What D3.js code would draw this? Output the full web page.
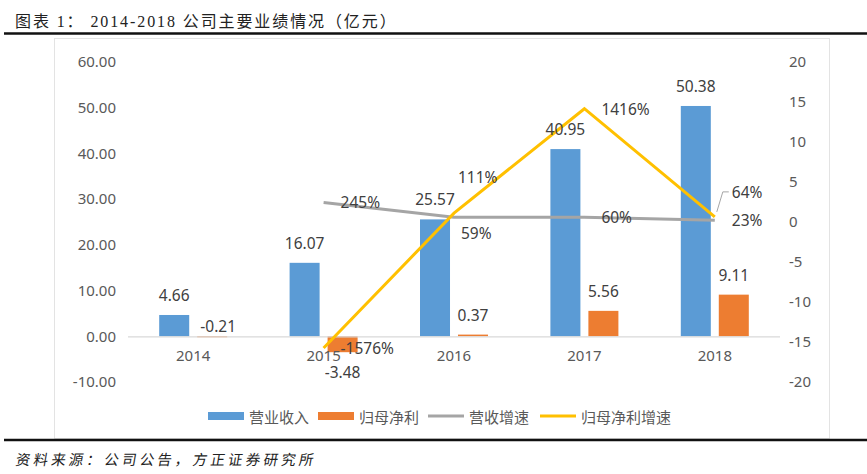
<!DOCTYPE html>
<html><head><meta charset="utf-8">
<script src="https://cdn.jsdelivr.net/npm/d3@7"></script>
<style>
html,body{margin:0;padding:0;background:#fff;}
svg{display:block;}
</style></head>
<body>
<svg id="chart" width="867" height="474"></svg>
<script>
// ---- data ----
const years = ["2014", "2015", "2016", "2017", "2018"];
const revenue = [4.66, 16.07, 25.57, 40.95, 50.38];          // 营业收入 (亿元)
const netProfit = [-0.21, -3.48, 0.37, 5.56, 9.11];          // 归母净利 (亿元)
const revenueGrowth = [null, 2.45, 0.59, 0.60, 0.23];        // 营收增速 (倍)
const profitGrowth = [null, -15.76, 1.11, 14.16, 0.64];      // 归母净利增速 (倍)
const leftTicks = [-10, 0, 10, 20, 30, 40, 50, 60];
const rightTicks = [-20, -15, -10, -5, 0, 5, 10, 15, 20];
const seriesNames = ["营业收入", "归母净利", "营收增速", "归母净利增速"];
const titleText = "图表 1：  2014-2018 公司主要业绩情况（亿元）";
const sourceText = "资料来源：公司公告，方正证券研究所";

// label placement for line-series labels
const revGrowthLabelPos = [null, "right", "below", "right", "right"];
const profitGrowthLabelPos = [null, "right", "above", "right", "leader"];

// ---- styles ----
const C = {blue: "#5B9BD5", orange: "#ED7D31", gray: "#A5A5A5", yellow: "#FFC000",
  tick: "#595959", label: "#404040", axis: "#D9D9D9"};
const FONT = "'Noto Sans', 'Noto Sans CJK SC', sans-serif";

const svg = d3.select("#chart");
svg.append("rect").attr("width", 867).attr("height", 474).attr("fill", "#fff");

// title & rules
svg.append("text").attr("x", 15).attr("y", 27)
  .attr("font-family", "'Liberation Serif', 'Noto Sans CJK SC', serif")
  .attr("font-size", 16).attr("letter-spacing", 1.9).attr("fill", "#222").text(titleText);
svg.append("line").attr("x1", 4).attr("x2", 867).attr("y1", 33.5).attr("y2", 33.5)
  .attr("stroke", "#111").attr("stroke-width", 2.5);
// chart frame
svg.append("rect").attr("x", 54.5).attr("y", 38.5).attr("width", 775).attr("height", 400)
  .attr("fill", "none").attr("stroke", "#E3E3E3").attr("stroke-width", 1);
svg.append("line").attr("x1", 4).attr("x2", 867).attr("y1", 440).attr("y2", 440)
  .attr("stroke", "#111").attr("stroke-width", 2.5);
svg.append("text").attr("x", 15).attr("y", 465)
  .attr("font-family", "'Noto Sans CJK SC', sans-serif")
  .attr("transform", "skewX(-10) translate(82,0)")
  .attr("font-size", 14.5).attr("letter-spacing", 3.2).attr("fill", "#222").text(sourceText);

// ---- scales ----
const x0 = d3.scaleBand().domain(years).range([128, 780]).padding(0);
const x1 = d3.scaleBand().domain(["rev", "np"]).range([-34, 34]).paddingInner(0.21);
const yL = d3.scaleLinear().domain([-10, 60]).range([382, 62]);
const yR = d3.scaleLinear().domain([-20, 20]).range([382, 62]);
const cx = d => x0(d) + x0.bandwidth() / 2;

// ---- axes ----
const axL = svg.append("g").attr("transform", "translate(116,0)")
  .call(d3.axisLeft(yL).tickValues(leftTicks).tickSize(0).tickPadding(0).tickFormat(d => d.toFixed(2)));
axL.select(".domain").remove();
axL.selectAll("text").attr("font-family", FONT).attr("font-size", 15).attr("fill", C.tick);

const axR = svg.append("g").attr("transform", "translate(789,0)")
  .call(d3.axisRight(yR).tickValues(rightTicks).tickSize(0).tickPadding(0).tickFormat(d => String(d)));
axR.select(".domain").remove();
axR.selectAll("text").attr("font-family", FONT).attr("font-size", 15).attr("fill", C.tick);

// ---- bars ----
const gBars = svg.append("g");
[["rev", C.blue, revenue], ["np", C.orange, netProfit]].forEach(([k, col, arr]) => {
  gBars.selectAll("rect." + k).data(years).join("rect")
    .attr("class", k)
    .attr("x", (d) => cx(d) + x1(k))
    .attr("width", x1.bandwidth())
    .attr("y", (d, i) => yL(Math.max(0, arr[i])))
    .attr("height", (d, i) => Math.abs(yL(arr[i]) - yL(0)))
    .attr("fill", col);
});

// category axis line at zero
svg.append("line").attr("x1", x0.range()[0]).attr("x2", x0.range()[1])
  .attr("y1", yL(0) + 0.5).attr("y2", yL(0) + 0.5).attr("stroke", C.axis).attr("stroke-width", 1.2);
const axX = svg.append("g").attr("transform", `translate(0,${yL(0)})`)
  .call(d3.axisBottom(x0).tickSize(0).tickPadding(14));
axX.select(".domain").remove();
axX.selectAll("text").attr("font-family", FONT).attr("font-size", 15).attr("fill", C.tick);

// ---- lines ----
const lineGen = d3.line().defined(d => d.v !== null).x(d => cx(d.y)).y(d => yR(d.v));
const revG = years.map((y, i) => ({y, v: revenueGrowth[i]}));
const proG = years.map((y, i) => ({y, v: profitGrowth[i]}));
svg.append("path").datum(revG).attr("d", lineGen).attr("fill", "none")
  .attr("stroke", C.gray).attr("stroke-width", 3).attr("stroke-linejoin", "round");
svg.append("path").datum(proG).attr("d", lineGen).attr("fill", "none")
  .attr("stroke", C.yellow).attr("stroke-width", 3).attr("stroke-linejoin", "miter");

// ---- labels ----
const gl = svg.append("g").attr("font-family", FONT).attr("font-size", 15.5).attr("fill", C.label);
function barLabel(k, arr) {
  years.forEach((y, i) => {
    const v = arr[i];
    const x = cx(y) + x1(k) + x1.bandwidth() / 2;
    let ly, lx = x;
    if (v >= 0) ly = yL(v) - 20;
    else if (Math.abs(yL(v) - yL(0)) < 3) { ly = yL(0) - 10; lx = x + 6; }
    else ly = yL(v) + 20;
    gl.append("text").attr("x", lx).attr("y", ly).attr("text-anchor", "middle")
      .attr("dominant-baseline", "central").text(v.toFixed(2));
  });
}
barLabel("rev", revenue);
barLabel("np", netProfit);

function lineLabels(arr, pos) {
  years.forEach((y, i) => {
    const v = arr[i];
    if (v === null) return;
    const px = cx(y), py = yR(v);
    const t = Math.round(v * 100) + "%";
    let lx = px + 17, ly = py;
    if (pos[i] === "below") { lx = px + 7; ly = py + 16; }
    if (pos[i] === "above") { lx = px + 4; ly = py - 36; }
    if (pos[i] === "leader") {
      lx = px + 17; ly = py - 25;
      svg.append("polyline")
        .attr("points", [[px + 2, py - 5], [px + 8, ly], [px + 14, ly]].map(p => p.join(",")).join(" "))
        .attr("fill", "none").attr("stroke", "#A6A6A6").attr("stroke-width", 1);
    }
    gl.append("text").attr("x", lx).attr("y", ly).attr("dominant-baseline", "central").text(t);
  });
}
lineLabels(revenueGrowth, revGrowthLabelPos);
lineLabels(profitGrowth, profitGrowthLabelPos);

// ---- legend ----
const lg = svg.append("g").attr("font-family", "'Noto Sans CJK SC', sans-serif").attr("font-size", 15).attr("fill", C.tick);
const legendItems = [
  {name: seriesNames[0], color: C.blue, type: "rect", x: 208},
  {name: seriesNames[1], color: C.orange, type: "rect", x: 318},
  {name: seriesNames[2], color: C.gray, type: "line", x: 428},
  {name: seriesNames[3], color: C.yellow, type: "line", x: 540}
];
legendItems.forEach(it => {
  if (it.type === "rect") lg.append("rect").attr("x", it.x).attr("y", 412).attr("width", 36).attr("height", 8).attr("fill", it.color);
  else lg.append("line").attr("x1", it.x).attr("x2", it.x + 36).attr("y1", 416).attr("y2", 416).attr("stroke", it.color).attr("stroke-width", 3);
  lg.append("text").attr("x", it.x + 41).attr("y", 416).attr("dominant-baseline", "central").text(it.name);
});
</script>
</body></html>
